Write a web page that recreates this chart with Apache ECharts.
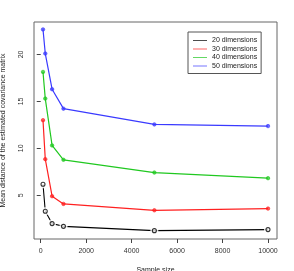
<!DOCTYPE html>
<html><head><meta charset="utf-8">
<script src="https://cdn.jsdelivr.net/npm/echarts@6/dist/echarts.min.js"></script>
<style>html,body{margin:0;padding:0;background:#fff}#c{width:294px;height:271px}</style>
</head><body><div id="c"></div>
<script>
const sampleSizes = [100, 200, 500, 1000, 5000, 10000];
const dim20 = [6.18, 3.29, 1.98, 1.69, 1.23, 1.34];
const dim30 = [13.0, 8.85, 4.9, 4.08, 3.4, 3.58];
const dim40 = [18.14, 15.3, 10.31, 8.78, 7.42, 6.82];
const dim50 = [22.67, 20.1, 16.3, 14.23, 12.55, 12.37];
const seriesNames = ['20 dimensions', '30 dimensions', '40 dimensions', '50 dimensions'];
const xTicks = [0, 2000, 4000, 6000, 8000, 10000];
const yTicks = [5, 10, 15, 20];

const colors = ['#000000', '#ff2020', '#20c820', '#3a3aff'];
const pairs = arr => sampleSizes.map((x, i) => [x, arr[i]]);
const font = 'Liberation Sans, Arial, sans-serif';

function lineSeries(name, data, color) {
  return {
    name, type: 'line', data: pairs(data), color,
    lineStyle: { color, width: 1.2 },
    symbol: 'circle', symbolSize: 3.5,
    itemStyle: { color, borderColor: color, borderWidth: 0.8, opacity: 0.75 },
    z: 2
  };
}
const series = [
  { name: seriesNames[0], type: 'line', data: pairs(dim20), color: colors[0],
    lineStyle: { color: colors[0], width: 1.1 }, symbol: 'none', z: 2 },
  { name: 'mask', type: 'scatter', data: pairs(dim20), symbol: 'circle', symbolSize: 8,
    itemStyle: { color: '#fff' }, z: 3, silent: true },
  { name: 'pts20', type: 'scatter', data: pairs(dim20), symbol: 'circle', symbolSize: 4,
    itemStyle: { color: 'transparent', borderColor: '#000', borderWidth: 1.1 }, z: 4 },
  lineSeries(seriesNames[1], dim30, colors[1]),
  lineSeries(seriesNames[2], dim40, colors[2]),
  lineSeries(seriesNames[3], dim50, colors[3])
];

const chart = echarts.init(document.getElementById('c'), null, { renderer: 'canvas' });
chart.setOption({
  animation: false,
  backgroundColor: '#fff',
  textStyle: { fontFamily: font },
  grid: { left: 34, top: 22, right: 17, bottom: 32, show: true, borderColor: '#666', borderWidth: 1,
    backgroundColor: 'transparent', containLabel: false, outerBoundsMode: 'none' },
  xAxis: {
    type: 'value', min: -296, max: 10396,
    name: 'Sample size', nameLocation: 'middle', nameGap: 28,
    nameTextStyle: { fontSize: 7, color: '#222', fontFamily: font },
    axisLine: { show: false },
    splitLine: { show: false },
    axisTick: { show: true, inside: false, length: 4, lineStyle: { color: '#444' }, customValues: xTicks },
    axisLabel: { fontSize: 7, color: '#333', margin: 9, fontFamily: font, customValues: xTicks, formatter: v => String(v) }
  },
  yAxis: {
    type: 'value', min: 0.34, max: 23.46,
    name: 'Mean distance of the estimated covariance matrix', nameLocation: 'middle', nameGap: 27, nameRotate: 90,
    nameTextStyle: { fontSize: 7, color: '#222', fontFamily: font },
    axisLine: { show: false },
    splitLine: { show: false },
    axisTick: { show: true, inside: false, length: 4, lineStyle: { color: '#444' }, customValues: yTicks },
    axisLabel: { fontSize: 7, color: '#333', rotate: 90, margin: 9, fontFamily: font, customValues: yTicks, formatter: v => String(v) }
  },
  legend: {
    data: seriesNames.map((n, i) => ({ name: n, icon: 'path://M0 0H20V1H0Z',
      itemStyle: { color: colors[i], borderWidth: 0, opacity: 1 } })),
    orient: 'vertical', left: 188, top: 32,
    itemWidth: 14, itemHeight: 7, itemGap: 1.5,
    padding: [5, 4, 4, 5],
    borderColor: '#555', borderWidth: 1, backgroundColor: '#fff',
    textStyle: { fontSize: 7, color: '#222', fontFamily: font },
    selectedMode: false
  },
  series
});
</script></body></html>
